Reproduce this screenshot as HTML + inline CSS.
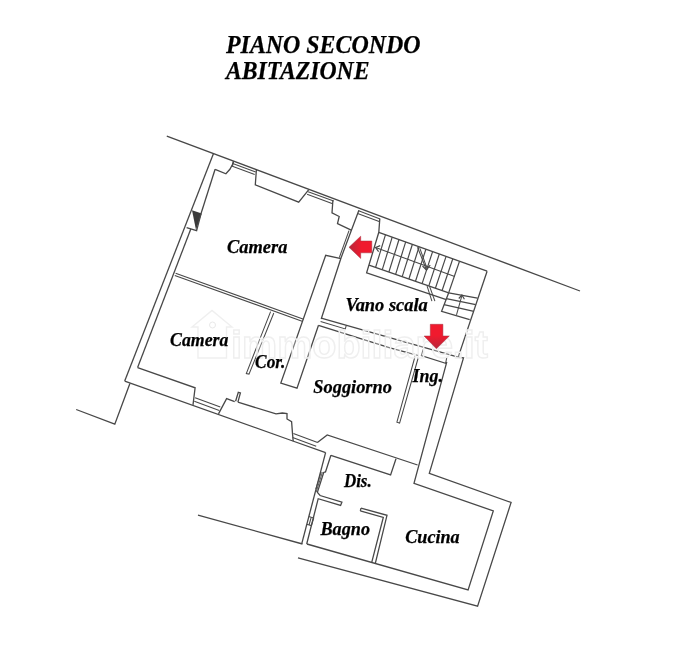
<!DOCTYPE html>
<html><head><meta charset="utf-8"><title>Piano secondo</title>
<style>
html,body{margin:0;padding:0;background:#fff;}
body{width:677px;height:668px;overflow:hidden;font-family:"Liberation Serif",serif;}
svg{display:block;}
svg polyline{fill:none;stroke-linecap:butt;stroke-linejoin:miter;}
svg text{font-family:"Liberation Serif",serif;font-weight:bold;font-style:italic;fill:#000;}
#labels text{stroke:#000;stroke-width:0.25px;}
</style></head><body>
<svg width="677" height="668" viewBox="0 0 677 668">
<rect width="677" height="668" fill="#fff"/>
<g id="lines">
<polyline points="166.8,136.1 580.0,291.0" stroke="#484848" stroke-width="1.30"/>
<polyline points="213.4,153.7 124.7,381.1" stroke="#484848" stroke-width="1.30"/>
<polyline points="215.1,169.3 201.2,213.0" stroke="#484848" stroke-width="1.30"/>
<polyline points="215.1,169.3 225.9,173.8 229.9,169.3 232.6,164.3 233.5,161.2" stroke="#484848" stroke-width="1.30"/>
<polyline points="232.7,163.5 255.7,171.9" stroke="#484848" stroke-width="1.04"/>
<polyline points="231.7,166.1 254.7,174.5" stroke="#484848" stroke-width="1.04"/>
<polyline points="233.5,161.2 232.5,166.1" stroke="#484848" stroke-width="1.04"/>
<polyline points="256.4,169.8 255.3,184.8 298.7,202.1 308.6,189.9" stroke="#484848" stroke-width="1.30"/>
<polyline points="308.1,191.7 333.7,201.1" stroke="#484848" stroke-width="1.04"/>
<polyline points="307.1,194.3 332.7,203.7" stroke="#484848" stroke-width="1.04"/>
<polyline points="332.9,200.3 332.0,212.9 339.2,216.5 337.5,223.6 351.2,230.2" stroke="#484848" stroke-width="1.30"/>
<polygon points="192.0,210.3 201.8,213.6 196.0,230.0" fill="#3a3a3a"/>
<polyline points="201.2,213.0 196.6,230.6 186.6,227.6" stroke="#484848" stroke-width="1.30"/>
<polyline points="190.8,229.0 137.6,367.6" stroke="#484848" stroke-width="1.30"/>
<polyline points="175.6,273.3 303.6,319.2" stroke="#484848" stroke-width="1.04"/>
<polyline points="174.8,275.4 302.8,321.4" stroke="#484848" stroke-width="1.04"/>
<polyline points="124.7,381.1 290.0,440.0 325.6,452.6" stroke="#484848" stroke-width="1.30"/>
<polyline points="137.6,367.6 195.1,387.8 193.0,404.9" stroke="#484848" stroke-width="1.30"/>
<polyline points="129.9,383.5 114.8,424.2 76.2,409.5" stroke="#484848" stroke-width="1.30"/>
<polyline points="195.1,397.7 220.3,407.1" stroke="#484848" stroke-width="1.04"/>
<polyline points="194.3,401.3 219.3,410.6" stroke="#484848" stroke-width="1.04"/>
<polyline points="218.5,413.9 226.6,398.6 234.7,401.7" stroke="#484848" stroke-width="1.30"/>
<polyline points="235.6,401.3 238.3,392.3 240.4,392.9 237.9,402.2" stroke="#484848" stroke-width="1.30"/>
<polyline points="237.9,402.2 276.0,413.9 282.3,413.0 287.0,413.6 287.0,419.0 291.6,421.7 292.5,433.4 293.2,441.2" stroke="#484848" stroke-width="1.30"/>
<polyline points="293.4,433.4 317.6,442.4" stroke="#484848" stroke-width="1.04"/>
<polyline points="292.6,437.5 316.2,446.3" stroke="#484848" stroke-width="1.04"/>
<polyline points="317.4,442.6 327.2,435.0 417.6,465.0" stroke="#484848" stroke-width="1.30"/>
<polyline points="270.6,311.6 246.3,373.5 249.0,374.1 273.8,313.0" stroke="#484848" stroke-width="1.04"/>
<polyline points="341.0,258.6 325.7,255.3 280.8,383.1 297.0,388.1 318.5,325.3" stroke="#484848" stroke-width="1.30"/>
<polyline points="358.9,210.2 341.0,258.0 321.2,319.0" stroke="#484848" stroke-width="1.30"/>
<polyline points="349.0,230.6 339.3,257.6" stroke="#484848" stroke-width="1.04"/>
<polyline points="321.2,318.1 459.0,357.4" stroke="#484848" stroke-width="1.30"/>
<polyline points="318.5,325.3 390.0,347.8 418.6,355.6" stroke="#484848" stroke-width="1.30"/>
<polyline points="346.3,325.3 345.3,328.9 320.6,321.6" stroke="#484848" stroke-width="1.04"/>
<polyline points="423.1,349.3 421.3,355.6 445.6,363.3 446.8,357.4" stroke="#484848" stroke-width="1.04"/>
<polyline points="415.0,356.5 396.9,422.2 399.6,423.1 418.6,356.5" stroke="#484848" stroke-width="1.04"/>
<polyline points="446.8,361.9 414.0,483.3 493.3,510.9 468.1,589.9 306.9,544.0" stroke="#484848" stroke-width="1.30"/>
<polyline points="458.1,357.4 463.5,357.9 429.3,473.4 511.1,502.5 477.6,606.2 298.0,557.8" stroke="#484848" stroke-width="1.30"/>
<polyline points="487.1,271.2 458.1,357.4" stroke="#484848" stroke-width="1.30"/>
<polyline points="358.6,210.8 380.1,218.9" stroke="#484848" stroke-width="1.04"/>
<polyline points="357.6,213.4 379.1,221.5" stroke="#484848" stroke-width="1.04"/>
<polyline points="379.8,218.7 378.8,232.3 366.6,272.9 446.3,299.6" stroke="#484848" stroke-width="1.30"/>
<polyline points="378.8,232.3 487.1,271.1" stroke="#484848" stroke-width="1.30"/>
<polyline points="369.0,265.1 448.7,292.8" stroke="#484848" stroke-width="1.30"/>
<polyline points="375.6,247.5 454.7,276.5" stroke="#484848" stroke-width="1.04"/>
<polyline points="385.5,234.7 375.6,267.4" stroke="#484848" stroke-width="1.17"/>
<polyline points="392.2,237.1 382.3,269.7" stroke="#484848" stroke-width="1.17"/>
<polyline points="399.0,239.5 388.9,272.0" stroke="#484848" stroke-width="1.17"/>
<polyline points="405.7,241.9 395.6,274.3" stroke="#484848" stroke-width="1.17"/>
<polyline points="412.4,244.3 402.2,276.6" stroke="#484848" stroke-width="1.17"/>
<polyline points="419.1,246.8 408.9,279.0" stroke="#484848" stroke-width="1.17"/>
<polyline points="425.9,249.2 415.5,281.3" stroke="#484848" stroke-width="1.17"/>
<polyline points="432.6,251.6 422.1,283.6" stroke="#484848" stroke-width="1.17"/>
<polyline points="439.3,254.0 428.8,285.9" stroke="#484848" stroke-width="1.17"/>
<polyline points="446.1,256.4 435.4,288.2" stroke="#484848" stroke-width="1.17"/>
<polyline points="452.8,258.8 442.1,290.5" stroke="#484848" stroke-width="1.17"/>
<polyline points="459.5,261.2 448.7,292.8" stroke="#484848" stroke-width="1.17"/>
<polyline points="448.7,292.8 441.6,311.3 469.7,319.7" stroke="#484848" stroke-width="1.30"/>
<polyline points="417.5,247.2 426.5,270.0" stroke="#484848" stroke-width="1.04"/>
<polyline points="419.9,248.4 427.1,268.7" stroke="#484848" stroke-width="1.04"/>
<polyline points="427.1,286.1 431.9,301.1" stroke="#484848" stroke-width="1.04"/>
<polyline points="429.5,286.1 434.9,301.1" stroke="#484848" stroke-width="1.04"/>
<polyline points="380.2,245.6 375.6,247.5 378.6,251.6" stroke="#484848" stroke-width="1.17"/>
<polyline points="422.5,266.0 426.5,270.0 430.2,265.0" stroke="#484848" stroke-width="1.17"/>
<polyline points="448.7,292.8 477.5,298.1" stroke="#484848" stroke-width="1.30"/>
<polyline points="446.3,298.7 475.7,304.7" stroke="#484848" stroke-width="1.30"/>
<polyline points="444.0,304.7 473.9,311.3" stroke="#484848" stroke-width="1.30"/>
<polyline points="461.9,295.7 456.5,314.9" stroke="#484848" stroke-width="1.04"/>
<polyline points="458.8,298.5 461.9,295.0 464.4,299.2" stroke="#484848" stroke-width="1.17"/>
<polyline points="325.6,452.6 301.7,543.8" stroke="#484848" stroke-width="1.30"/>
<polyline points="330.9,455.3 325.5,471.9 323.7,472.5 317.4,492.3 320.1,495.5 341.9,502.2 340.6,505.4 318.2,498.7 306.7,544.0" stroke="#484848" stroke-width="1.30"/>
<polyline points="330.9,455.3 390.6,474.9 396.0,458.7" stroke="#484848" stroke-width="1.30"/>
<polyline points="361.0,508.1 387.0,515.3 375.2,563.8" stroke="#484848" stroke-width="1.30"/>
<polyline points="360.3,510.8 383.3,517.4 371.6,562.9" stroke="#484848" stroke-width="1.30"/>
<polyline points="361.0,508.1 360.3,510.8" stroke="#484848" stroke-width="1.30"/>
<polyline points="198.0,515.1 302.5,544.0" stroke="#484848" stroke-width="1.30"/>
<polyline points="322.4,472.2 316.2,492.0" stroke="#484848" stroke-width="0.91"/>
<polyline points="321.2,472.0 315.8,489.0" stroke="#484848" stroke-width="0.91"/>
<polyline points="308.8,516.6 313.7,518.0 311.4,525.6 306.5,524.3" stroke="#484848" stroke-width="1.04"/>
<polyline points="311.2,517.3 309.0,525.0" stroke="#484848" stroke-width="1.04"/>
</g>
<g id="wm" style="font-family:'Liberation Sans',sans-serif;filter:grayscale(1)">
<path d="M192,327 L212,310.5 L232,327 L226.5,327 L226.5,358 L198,358 L198,327 Z" fill="#fff" fill-opacity="0.4" stroke="#efefef" stroke-width="1.4"/>
<circle cx="212.5" cy="325" r="3" fill="none" stroke="#e8e8e8" stroke-width="1"/>
<text x="231" y="358" font-size="39px" style="font-family:'Liberation Sans',sans-serif;font-style:normal;font-weight:bold;fill:#fff;fill-opacity:0.3;stroke:#efefef;stroke-width:1.4px;" textLength="257" lengthAdjust="spacingAndGlyphs">immobiliare.it</text>
</g>
<g id="arrows">
<defs><linearGradient id="ga" x1="1" y1="0" x2="0" y2="0"><stop offset="0.45" stop-color="#f01a2e"/><stop offset="1" stop-color="#b8263a"/></linearGradient>
<linearGradient id="gb" x1="0" y1="0" x2="0" y2="1"><stop offset="0.45" stop-color="#f01a2e"/><stop offset="1" stop-color="#b8263a"/></linearGradient></defs>
<polygon points="349,247.3 360.7,236.2 360.7,241 371.8,241 371.8,252.8 360.7,252.8 360.7,258.4" fill="url(#ga)" stroke="#a03040" stroke-width="0.5"/>
<polygon points="430.3,324.3 442.9,324.3 442.9,336 449.3,336 436.4,348.8 424.1,336 430.3,336" fill="url(#gb)" stroke="#a03040" stroke-width="0.5"/>
</g>
<g id="labels" style="filter:grayscale(1)">
<text x="226.0" y="52.6" font-size="26px" textLength="194.5" lengthAdjust="spacingAndGlyphs">PIANO SECONDO</text>
<text x="226.0" y="78.6" font-size="26px" textLength="143.5" lengthAdjust="spacingAndGlyphs">ABITAZIONE</text>
<text x="227.1" y="253.1" font-size="18px" textLength="60.3" lengthAdjust="spacingAndGlyphs">Camera</text>
<text x="170.0" y="346.0" font-size="18px" textLength="58.4" lengthAdjust="spacingAndGlyphs">Camera</text>
<text x="255.1" y="368.2" font-size="18px" textLength="30.3" lengthAdjust="spacingAndGlyphs">Cor.</text>
<text x="345.4" y="311.3" font-size="18px" textLength="82.4" lengthAdjust="spacingAndGlyphs">Vano scala</text>
<text x="412.5" y="381.9" font-size="18px" textLength="30.4" lengthAdjust="spacingAndGlyphs">Ing.</text>
<text x="313.3" y="393.0" font-size="18px" textLength="78.6" lengthAdjust="spacingAndGlyphs">Soggiorno</text>
<text x="343.9" y="486.9" font-size="18px" textLength="27.8" lengthAdjust="spacingAndGlyphs">Dis.</text>
<text x="320.5" y="534.9" font-size="18px" textLength="49.5" lengthAdjust="spacingAndGlyphs">Bagno</text>
<text x="405.2" y="543.0" font-size="18px" textLength="54.5" lengthAdjust="spacingAndGlyphs">Cucina</text>
</g>
</svg>
</body></html>
